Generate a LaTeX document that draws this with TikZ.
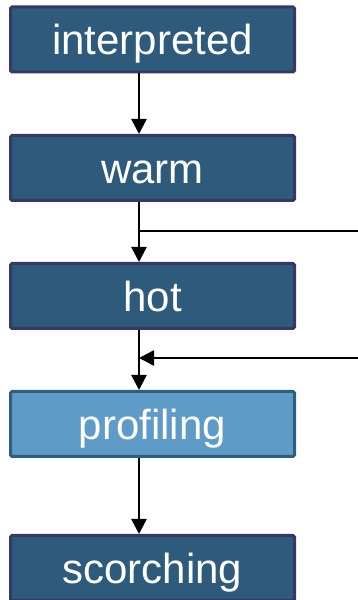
\documentclass[tikz,border=0pt]{standalone}
\usepackage{fontspec}
\setmainfont{Liberation Sans}
\usetikzlibrary{arrows.meta}
\definecolor{boxfill}{HTML}{2E5B7B}
\definecolor{boxline}{HTML}{383866}
\definecolor{activefill}{HTML}{5E9BC7}
\definecolor{activeline}{HTML}{2F5F80}
\tikzset{
  x=1pt, y=1pt,
  state/.style={draw=boxline, fill=boxfill, line width=3pt, rounded corners=1.5pt,
    minimum width=284pt, minimum height=65pt, inner sep=0pt,
    text height=31pt, text depth=0pt, text=white, font=\fontsize{42}{42}\selectfont},
  activestate/.style={state, draw=activeline, fill=activefill},
  flow/.style={line width=2.5pt, -{Triangle[width=15pt,length=15pt]}},
  feed/.style={line width=2pt}
}
\begin{document}
\begin{tikzpicture}
\useasboundingbox (0,0) rectangle (358,600);
\coordinate (spine) at (139,0);
\node[state] (interp) at (152.5,560.5) {interpreted};
\node[state] (warm) at (152.5,432) {warm};
\node[state] (hot) at (152.5,304) {hot};
\node[activestate] (prof) at (152.5,176) {profiling};
\node[state] (scorch) at (152.5,32) {scorching};
\coordinate (feedin) at (358,369);
\coordinate (feedout) at (358,242);
\draw[flow] (interp.south -| spine) -- (warm.north -| spine);
\draw[flow] (warm.south -| spine) -- (hot.north -| spine);
\draw[flow] (hot.south -| spine) -- (prof.north -| spine);
\draw[flow] (prof.south -| spine) -- (scorch.north -| spine);
\draw[feed] (feedin -| spine) -- (feedin);
\draw[flow] (feedout) -- (feedout -| spine);
\end{tikzpicture}
\end{document}
